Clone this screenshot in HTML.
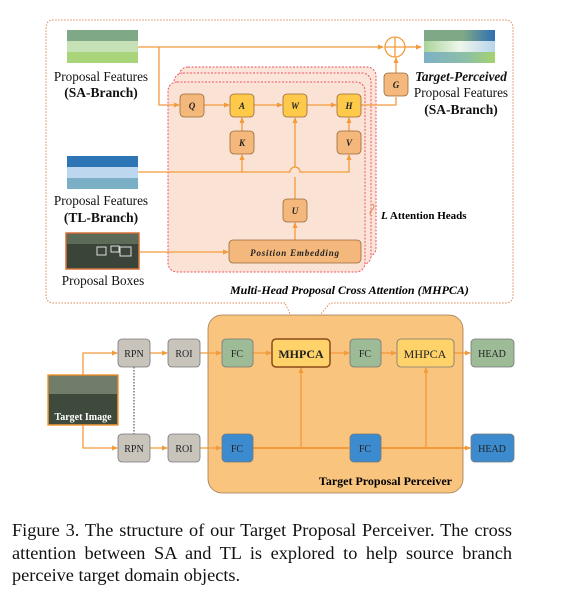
<!DOCTYPE html>
<html><head><meta charset="utf-8"><style>
body{margin:0;background:#fff;}
svg{display:block}
.cap{position:absolute;left:12px;top:519px;width:500px;font-family:"Liberation Serif",serif;font-size:18.3px;line-height:22.5px;text-align:justify;color:#111;}
</style></head><body>
<svg width="562" height="596" viewBox="0 0 562 596" xmlns="http://www.w3.org/2000/svg" font-family="Liberation Serif, serif">
<defs>
<marker id="ar" markerWidth="6" markerHeight="6" refX="5" refY="3" orient="auto" markerUnits="userSpaceOnUse"><path d="M0,0.5 L6,3 L0,5.5z" fill="#f39a3a"/></marker>
<linearGradient id="g1" x1="0" x2="1"><stop offset="0" stop-color="#7fa886"/><stop offset="0.55" stop-color="#7fa886"/><stop offset="1" stop-color="#2e6fb3"/></linearGradient>
<linearGradient id="g2" x1="0" x2="1"><stop offset="0" stop-color="#a9d49a"/><stop offset="0.5" stop-color="#eef6ea"/><stop offset="1" stop-color="#b8d4ec"/></linearGradient>
<linearGradient id="g3" x1="0" x2="1"><stop offset="0" stop-color="#7db0c6"/><stop offset="0.6" stop-color="#8cbfa6"/><stop offset="1" stop-color="#a5d36e"/></linearGradient>
</defs>
<path d="M285,303 L54,303 Q46,303 46,295 L46,28 Q46,20 54,20 L505,20 Q513,20 513,28 L513,295 Q513,303 505,303 L330,303 L301,338 Z" fill="none" stroke="#e08a5a" stroke-width="1" stroke-dasharray="1.5,1.5"/>
<rect x="179" y="67" width="197" height="190" rx="9" fill="#fbe5d8" stroke="#ee5566" stroke-dasharray="2,1.5"/>
<rect x="174" y="73" width="197" height="192" rx="9" fill="#fbe5d8" stroke="#ee5566" stroke-dasharray="2,1.5"/>
<rect x="168" y="82" width="197" height="190" rx="9" fill="#fae3d5" stroke="#ee5566" stroke-dasharray="2,1.5"/>
<rect x="67" y="30" width="71" height="11" fill="#7fa886"/><rect x="67" y="41" width="71" height="11" fill="#c5e1b5"/><rect x="67" y="52" width="71" height="11" fill="#a9d47a"/>
<rect x="424" y="30" width="71" height="11" fill="url(#g1)"/><rect x="424" y="41" width="71" height="11" fill="url(#g2)"/><rect x="424" y="52" width="71" height="11" fill="url(#g3)"/>
<rect x="67" y="156" width="71" height="11" fill="#2e75b6"/><rect x="67" y="167" width="71" height="11" fill="#bdd7ee"/><rect x="67" y="178" width="71" height="11" fill="#7aafc6"/>
<rect x="66" y="233" width="73" height="36" fill="#3a4438" stroke="#d9733a" stroke-width="1.5"/>
<rect x="67" y="234" width="71" height="10" fill="#5c6a58"/>
<rect x="97" y="247" width="9" height="8" fill="none" stroke="#ddd"/><rect x="111" y="246" width="8" height="6" fill="none" stroke="#ddd"/><rect x="120" y="247" width="11" height="9" fill="none" stroke="#ddd"/>
<g font-size="13.2" fill="#111" text-anchor="middle">
<text x="101" y="81">Proposal Features</text><text x="101" y="97" font-weight="bold" font-size="13.5">(SA-Branch)</text>
<text x="101" y="205">Proposal Features</text><text x="101" y="222" font-weight="bold" font-size="13.5">(TL-Branch)</text>
<text x="103" y="285">Proposal Boxes</text>
<text x="461" y="81" font-weight="bold" font-style="italic">Target-Perceived</text>
<text x="461" y="97">Proposal Features</text><text x="461" y="114" font-weight="bold" font-size="13.5">(SA-Branch)</text>
</g>
<text x="381" y="219" font-size="11" font-weight="bold"><tspan font-style="italic">L</tspan>  Attention Heads</text>
<path d="M372,204 q4,2 0,6 q-4,3 0,6" fill="none" stroke="#e08a5a" stroke-width="1"/>
<text x="230" y="294" font-size="12" font-weight="bold" font-style="italic">Multi-Head Proposal Cross Attention (MHPCA)</text>
<g stroke="#f39a3a" stroke-width="1.3" fill="none">
<path d="M138,47 L383,47" marker-end="url(#ar)"/>
<path d="M405,47 L421,47" marker-end="url(#ar)"/>
<path d="M159,47 L159,105 L179,105" marker-end="url(#ar)"/>
<path d="M204,105 L229,105" marker-end="url(#ar)"/>
<path d="M254,105 L282,105" marker-end="url(#ar)"/>
<path d="M307,105 L336,105" marker-end="url(#ar)"/>
<path d="M361,105 L396,105 L396,97"/>
<path d="M396,73 L396,58" marker-end="url(#ar)"/>
<path d="M242,131 L242,118" marker-end="url(#ar)"/>
<path d="M349,131 L349,118" marker-end="url(#ar)"/>
<path d="M138,172 L290,172 A5,5 0 0 1 300,172 L349,172 L349,155" marker-end="url(#ar)"/>
<path d="M242,172 L242,155" marker-end="url(#ar)"/>
<path d="M295,199 L295,177 M295,167 L295,118" marker-end="url(#ar)"/>
<path d="M295,240 L295,223" marker-end="url(#ar)"/>
<path d="M139,252 L228,252" marker-end="url(#ar)"/>
</g>
<circle cx="395" cy="47" r="10" fill="#fff" stroke="#f39a3a" stroke-width="1.3"/>
<path d="M385,47 H405 M395,37 V57" stroke="#f39a3a" stroke-width="1.3"/>
<g stroke="#9a6a3a" stroke-width="0.8">
<rect x="180" y="94" width="24" height="23" rx="4" fill="#f4b87c"/>
<rect x="230" y="94" width="24" height="23" rx="4" fill="#ffc94a"/>
<rect x="283" y="94" width="24" height="23" rx="4" fill="#ffc94a"/>
<rect x="337" y="94" width="24" height="23" rx="4" fill="#ffc94a"/>
<rect x="230" y="131" width="24" height="23" rx="4" fill="#f4b87c"/>
<rect x="337" y="131" width="24" height="23" rx="4" fill="#f4b87c"/>
<rect x="283" y="199" width="24" height="23" rx="4" fill="#f4b87c"/>
<rect x="384" y="73" width="24" height="23" rx="4" fill="#f4b87c"/>
<rect x="229" y="240" width="132" height="23" rx="4" fill="#f4b87c"/>
</g>
<g font-size="9" font-weight="bold" font-style="italic" text-anchor="middle" fill="#222">
<text x="192" y="109">Q</text><text x="242" y="109">A</text><text x="295" y="109">W</text><text x="349" y="109">H</text>
<text x="242" y="146">K</text><text x="349" y="146">V</text><text x="295" y="214">U</text><text x="396" y="88">G</text>
<text x="295" y="256" letter-spacing="0.8">Position Embedding</text>
</g>
<rect x="208" y="315" width="255" height="178" rx="14" fill="#f8c47e" stroke="#a07a55" stroke-width="0.8"/>
<text x="452" y="485" font-size="12" font-weight="bold" text-anchor="end">Target Proposal Perceiver</text>
<rect x="48" y="375" width="70" height="50" fill="#3e4a3c" stroke="#f39a3a" stroke-width="1.5"/>
<rect x="49" y="376" width="68" height="18" fill="#6f7d6a"/>
<text x="83" y="420" font-size="10" font-weight="bold" fill="#fff" text-anchor="middle">Target Image</text>
<line x1="134" y1="367" x2="134" y2="434" stroke="#333" stroke-dasharray="1.5,1.5"/>
<g stroke="#f39a3a" stroke-width="1.3" fill="none">
<path d="M83,375 L83,353 L117,353" marker-end="url(#ar)"/>
<path d="M83,425 L83,448 L117,448" marker-end="url(#ar)"/>
<path d="M150,353 L167,353" marker-end="url(#ar)"/><path d="M150,448 L167,448" marker-end="url(#ar)"/>
<path d="M200,353 L221,353" marker-end="url(#ar)"/><path d="M200,448 L221,448" marker-end="url(#ar)"/>
<path d="M253,353 L271,353" marker-end="url(#ar)"/>
<path d="M330,353 L349,353" marker-end="url(#ar)"/>
<path d="M381,353 L396,353" marker-end="url(#ar)"/>
<path d="M454,353 L470,353" marker-end="url(#ar)"/>
<path d="M253,448 L349,448" stroke-width="2"/>
<path d="M381,448 L470,448" stroke-width="2" marker-end="url(#ar)"/>
<path d="M301,448 L301,368" marker-end="url(#ar)"/>
<path d="M426,448 L426,368" marker-end="url(#ar)"/>
</g>
<g stroke="#777" stroke-width="0.8">
<rect x="118" y="339" width="32" height="28" rx="4" fill="#c8c3bb"/><rect x="118" y="434" width="32" height="28" rx="4" fill="#c8c3bb"/>
<rect x="168" y="339" width="32" height="28" rx="4" fill="#c8c3bb"/><rect x="168" y="434" width="32" height="28" rx="4" fill="#c8c3bb"/>
<rect x="222" y="339" width="31" height="28" rx="4" fill="#9dbb96"/><rect x="222" y="434" width="31" height="28" rx="4" fill="#3d8bcf"/>
<rect x="272" y="339" width="58" height="28" rx="4" fill="#ffd36a" stroke="#8a4a1a" stroke-width="1.5"/>
<rect x="350" y="339" width="31" height="28" rx="4" fill="#9dbb96"/><rect x="350" y="434" width="31" height="28" rx="4" fill="#3d8bcf"/>
<rect x="397" y="339" width="57" height="28" rx="4" fill="#ffd36a"/>
<rect x="471" y="339" width="43" height="28" rx="4" fill="#9dbb96"/><rect x="471" y="434" width="43" height="28" rx="4" fill="#3d8bcf"/>
</g>
<g font-size="10" text-anchor="middle" fill="#222">
<text x="134" y="357">RPN</text><text x="134" y="452">RPN</text>
<text x="184" y="357">ROI</text><text x="184" y="452">ROI</text>
<text x="237" y="357">FC</text><text x="237" y="452">FC</text>
<text x="301" y="358" font-size="12" font-weight="bold">MHPCA</text>
<text x="365" y="357">FC</text><text x="365" y="452">FC</text>
<text x="425" y="358" font-size="12">MHPCA</text>
<text x="492" y="357">HEAD</text><text x="492" y="452">HEAD</text>
</g>
</svg>
<div class="cap">Figure 3. The structure of our Target Proposal Perceiver. The cross attention between SA and TL is explored to help source branch perceive target domain objects.</div>
</body></html>
